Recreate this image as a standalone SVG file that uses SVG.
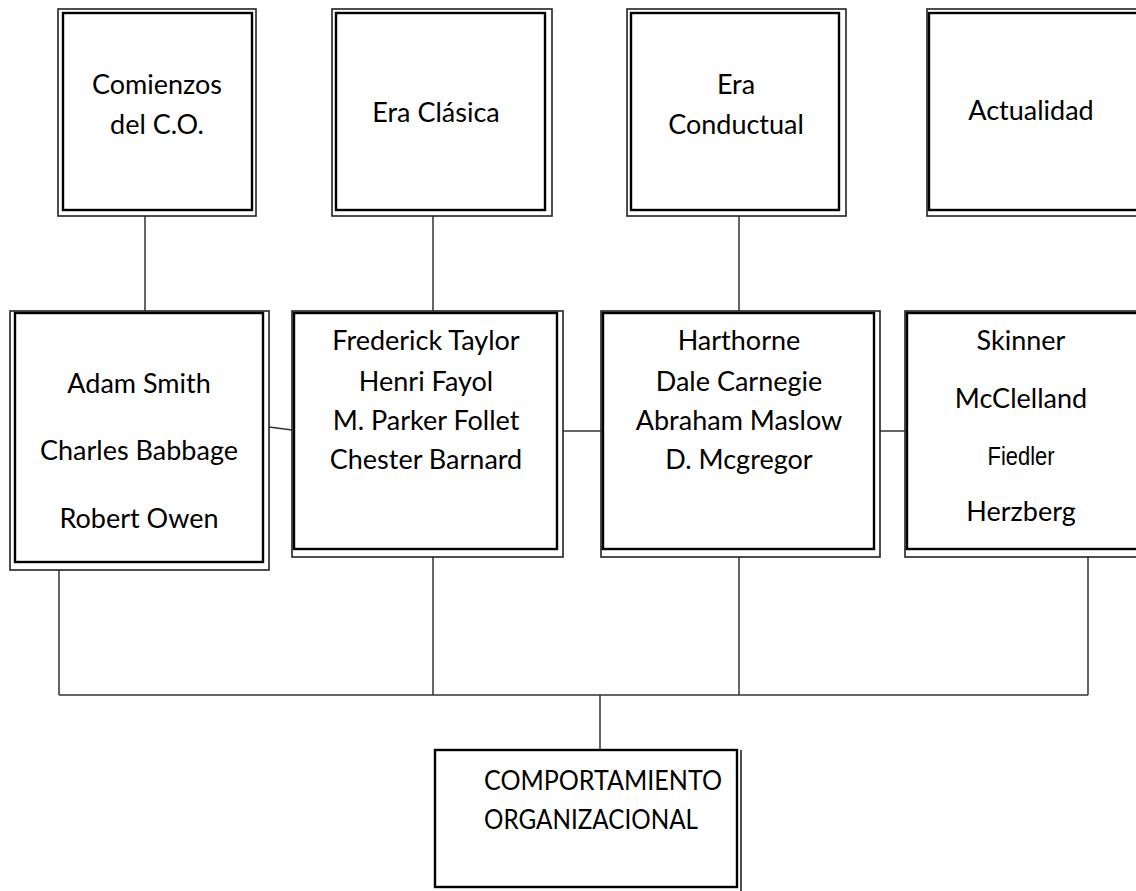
<svg xmlns="http://www.w3.org/2000/svg" width="1136" height="891" viewBox="0 0 1136 891">
<style>
.o{fill:none;stroke:#222;stroke-width:1.6}
.i{fill:#fff;stroke:#000;stroke-width:2.4}
.c{fill:none;stroke:#333;stroke-width:1.5}
text{font-family:Lato,"Open Sans",sans-serif;font-size:27px;fill:#000;text-anchor:middle}
.l{text-anchor:start}
</style>
<rect width="1136" height="891" fill="#fff"/>
<g id="connectors">
<line class="c" x1="145" y1="216" x2="145" y2="311"/>
<line class="c" x1="433" y1="216" x2="433" y2="311"/>
<line class="c" x1="739" y1="216" x2="739" y2="311"/>
<line class="c" x1="269" y1="427" x2="292" y2="430"/>
<line class="c" x1="563" y1="431" x2="601" y2="431"/>
<line class="c" x1="880" y1="431" x2="905" y2="431"/>
<line class="c" x1="59" y1="570" x2="59" y2="695"/>
<line class="c" x1="433" y1="557" x2="433" y2="695"/>
<line class="c" x1="739" y1="557" x2="739" y2="695"/>
<line class="c" x1="1088" y1="557" x2="1088" y2="695"/>
<line class="c" x1="59" y1="695" x2="1088" y2="695"/>
<line class="c" x1="600" y1="695" x2="600" y2="750"/>
</g>
<g id="comienzos">
<rect class="o" x="58" y="9" width="198" height="207"/>
<rect class="i" x="63" y="13" width="189" height="197"/>
<text x="157" y="94">Comienzos</text>
<text x="157" y="134">del C.O.</text>
</g>
<g id="era-clasica">
<rect class="o" x="332" y="9" width="220" height="207"/>
<rect class="i" x="336" y="13" width="209" height="197"/>
<text x="436" y="122">Era Clásica</text>
</g>
<g id="era-conductual">
<rect class="o" x="627" y="9" width="219" height="207"/>
<rect class="i" x="631" y="13" width="208" height="197"/>
<text x="736" y="94">Era</text>
<text x="736" y="134">Conductual</text>
</g>
<g id="actualidad">
<rect class="o" x="927" y="9" width="220" height="207"/>
<rect class="i" x="929" y="13" width="220" height="197"/>
<text x="1031" y="120">Actualidad</text>
</g>
<g id="box-a">
<rect class="o" x="10" y="311" width="259" height="259"/>
<rect class="i" x="15" y="313" width="248" height="249"/>
<text x="139" y="393">Adam Smith</text>
<text x="139" y="460">Charles Babbage</text>
<text x="139" y="528">Robert Owen</text>
</g>
<g id="box-b">
<rect class="o" x="292" y="311" width="271" height="246"/>
<rect class="i" x="294" y="313" width="263" height="236"/>
<text x="426" y="350">Frederick Taylor</text>
<text x="426" y="391">Henri Fayol</text>
<text x="426" y="430">M. Parker Follet</text>
<text x="426" y="469">Chester Barnard</text>
</g>
<g id="box-c">
<rect class="o" x="601" y="311" width="279" height="246"/>
<rect class="i" x="603" y="313" width="271" height="236"/>
<text x="739" y="350">Harthorne</text>
<text x="739" y="391">Dale Carnegie</text>
<text x="739" y="430">Abraham Maslow</text>
<text x="739" y="469">D. Mcgregor</text>
</g>
<g id="box-d">
<rect class="o" x="905" y="311" width="240" height="246"/>
<rect class="i" x="907" y="313" width="240" height="236"/>
<text x="1021" y="350">Skinner</text>
<text x="1021" y="408">McClelland</text>
<text x="1021" y="465" style="font-family:'Liberation Sans',sans-serif;font-size:25px" textLength="67" lengthAdjust="spacingAndGlyphs">Fiedler</text>
<text x="1021" y="521">Herzberg</text>
</g>
<g id="comportamiento">
<rect class="i" x="435" y="750" width="302" height="137"/>
<line class="o" x1="741" y1="750" x2="741" y2="891"/>
<text class="l" x="484" y="790" textLength="238" lengthAdjust="spacingAndGlyphs">COMPORTAMIENTO</text>
<text class="l" x="484" y="829" textLength="214" lengthAdjust="spacingAndGlyphs">ORGANIZACIONAL</text>
</g>
</svg>
